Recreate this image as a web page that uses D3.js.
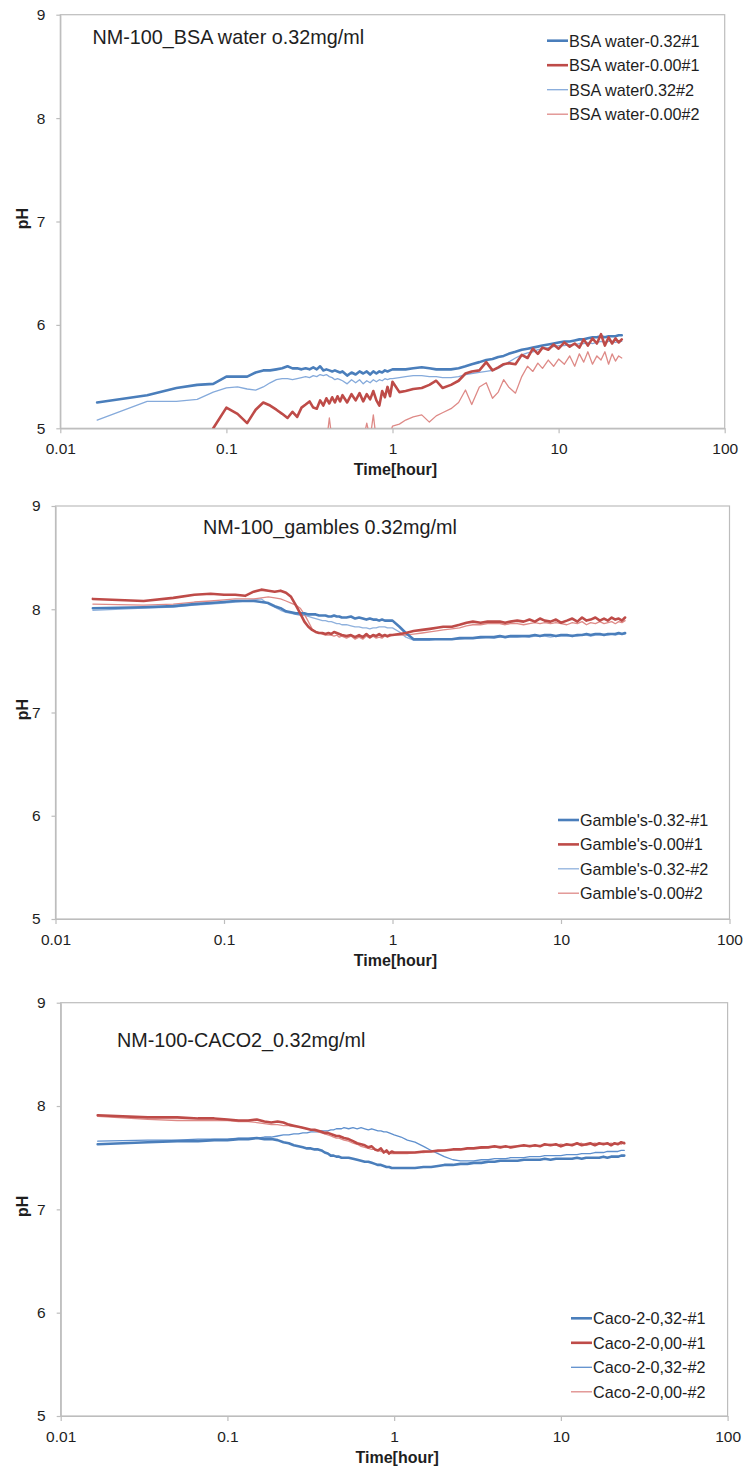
<!DOCTYPE html>
<html>
<head>
<meta charset="utf-8">
<script src="https://cdn.jsdelivr.net/npm/d3@7"></script>
<style>
html,body{margin:0;padding:0;background:#fff;}
svg{display:block;font-family:"Liberation Sans",Arial,sans-serif;}
</style>
</head>
<body>
<svg id="chart" width="744" height="1467"></svg>
<script>
// ---------------- DATA ----------------
// sampling times in minutes (axis shows hours)
const timeMin = [1,2,3,4,5,6,7,8,9,10,11,12,13,14,15,16,17,18,19,20,21,22,23,24,25,26,27,28,29,30,
  32,34,36,38,40,42,44,46,48,50,52,54,56,58,60,66,72,80,90,100,
  110,120,135,150,165,180,200,220,240,260,280,300,330,360,390,420,450,480,520,560,
  600,650,700,750,800,850,900,960,1020,1080,1140,1200,1260,1320,1380,1440];

const xTicks = [0.01, 0.1, 1, 10, 100];
const xTickLabels = ["0.01", "0.1", "1", "10", "100"];
const yTicks = [5, 6, 7, 8, 9];

const panelTitles = ["NM-100_BSA water o.32mg/ml", "NM-100_gambles 0.32mg/ml", "NM-100-CACO2_0.32mg/ml"];

// Panel 1 : BSA water
const bsaNames = ["BSA water-0.32#1", "BSA water-0.00#1", "BSA water0.32#2", "BSA water-0.00#2"];
const bsa_032_1 = [5.25,5.32,5.39,5.42,5.43,5.50,5.50,5.50,5.54,5.56,
  5.56,5.57,5.58,5.60,5.58,5.58,5.57,5.58,5.57,5.59,
  5.57,5.60,5.56,5.57,5.56,5.55,5.56,5.55,5.54,5.55,
  5.51,5.54,5.52,5.55,5.53,5.55,5.52,5.55,5.53,5.55,
  5.54,5.56,5.55,5.56,5.57,5.57,5.57,5.58,5.59,5.58,
  5.57,5.57,5.57,5.58,5.60,5.62,5.64,5.66,5.67,5.69,
  5.70,5.72,5.74,5.76,5.77,5.78,5.79,5.80,5.81,5.82,
  5.83,5.84,5.84,5.85,5.86,5.86,5.87,5.88,5.88,5.89,
  5.88,5.89,5.89,5.89,5.90,5.90];
const bsa_000_1 = [null,null,null,null,5.00,5.20,5.14,5.05,5.18,5.25,
  5.22,5.18,5.14,5.10,5.16,5.11,5.20,5.23,5.26,5.20,
  5.19,5.27,5.22,5.29,5.24,5.30,5.25,5.31,5.26,5.32,
  5.25,5.33,5.27,5.34,5.26,5.33,5.28,5.36,5.27,5.22,
  5.36,5.30,5.40,5.31,5.45,5.35,5.36,5.38,5.39,5.42,
  5.46,5.39,5.42,5.46,5.53,5.55,5.56,5.64,5.56,5.59,
  5.62,5.63,5.62,5.71,5.68,5.77,5.72,5.78,5.76,5.81,
  5.77,5.83,5.79,5.82,5.78,5.86,5.80,5.87,5.82,5.91,
  5.80,5.88,5.82,5.87,5.83,5.86];
const bsa_032_2 = [5.08,5.26,5.26,5.28,5.35,5.39,5.40,5.38,5.37,5.40,
  5.44,5.47,5.48,5.48,5.47,5.48,5.49,5.50,5.49,5.51,
  5.50,5.52,5.51,5.52,5.50,5.49,5.47,5.48,5.47,5.46,
  5.43,5.47,5.44,5.47,5.43,5.46,5.44,5.47,5.45,5.47,
  5.46,5.48,5.47,5.48,5.48,5.49,5.50,5.51,5.51,5.50,
  5.50,5.49,5.49,5.50,5.52,5.53,5.54,5.55,5.56,5.58,
  5.61,5.64,5.68,5.71,5.73,5.74,5.76,5.77,5.78,5.79,
  5.80,5.80,5.81,5.81,5.82,5.82,5.83,5.82,5.83,5.84,
  5.83,5.84,5.84,5.83,5.84,5.84];
const bsa_000_2 = [null,null,null,null,null,null,null,null,null,null,
  null,null,null,null,null,null,null,null,null,4.82,
  4.88,4.84,4.90,4.86,5.10,4.88,4.85,4.91,4.87,4.92,
  4.86,4.90,4.88,4.93,4.89,5.05,4.90,5.13,4.88,4.92,
  4.90,4.94,4.91,4.95,5.02,5.04,5.08,5.11,5.13,5.06,
  5.12,5.15,5.19,5.25,5.37,5.23,5.40,5.44,5.29,5.35,
  5.47,5.40,5.34,5.50,5.60,5.55,5.63,5.58,5.66,5.60,
  5.67,5.62,5.70,5.60,5.72,5.64,5.74,5.62,5.70,5.66,
  5.74,5.62,5.72,5.65,5.70,5.68];

// Panel 2 : Gamble's
const gamNames = ["Gamble's-0.32-#1", "Gamble's-0.00#1", "Gamble's-0.32-#2", "Gamble's-0.00#2"];
const gam_032_1 = [8.01,8.02,8.03,8.05,8.06,8.07,8.08,8.08,8.08,8.07,
  8.06,8.03,8.01,7.98,7.97,7.96,7.96,7.96,7.95,7.95,
  7.95,7.94,7.94,7.94,7.93,7.93,7.94,7.93,7.93,7.92,
  7.92,7.93,7.91,7.92,7.91,7.90,7.91,7.90,7.90,7.89,
  7.90,7.89,7.89,7.89,7.89,7.83,7.77,7.71,7.71,7.71,
  7.71,7.71,7.71,7.72,7.72,7.72,7.73,7.73,7.73,7.74,
  7.73,7.74,7.74,7.74,7.74,7.75,7.74,7.75,7.75,7.74,
  7.75,7.75,7.74,7.75,7.75,7.76,7.75,7.76,7.76,7.75,
  7.76,7.76,7.76,7.77,7.76,7.77];
const gam_000_1 = [8.10,8.08,8.11,8.14,8.15,8.14,8.14,8.13,8.17,8.19,
  8.18,8.17,8.18,8.16,8.12,8.04,7.96,7.88,7.83,7.80,
  7.78,7.77,7.77,7.76,7.77,7.76,7.78,7.77,7.76,7.75,
  7.74,7.75,7.73,7.75,7.73,7.76,7.73,7.75,7.74,7.76,
  7.74,7.75,7.74,7.75,7.75,7.76,7.77,7.79,7.80,7.81,
  7.82,7.83,7.83,7.85,7.87,7.88,7.87,7.88,7.88,7.88,
  7.87,7.88,7.89,7.88,7.90,7.88,7.91,7.89,7.88,7.90,
  7.87,7.89,7.91,7.88,7.92,7.89,7.90,7.92,7.89,7.91,
  7.89,7.92,7.90,7.91,7.89,7.92];
const gam_032_2 = [7.99,8.01,8.02,8.04,8.05,8.06,8.07,8.08,8.09,8.10,
  8.05,8.02,7.99,7.97,7.96,7.95,7.94,7.94,7.93,7.92,
  7.91,7.90,7.89,7.89,7.88,7.88,7.87,7.86,7.86,7.85,
  7.85,7.84,7.83,7.83,7.82,7.82,7.81,7.82,7.82,7.83,
  7.83,7.83,7.82,7.82,7.82,7.78,7.73,7.70,7.70,7.70,
  7.71,7.71,7.71,7.71,7.72,7.72,7.72,7.73,7.72,7.73,
  7.73,7.73,7.73,7.74,7.73,7.74,7.74,7.74,7.73,7.74,
  7.74,7.74,7.75,7.74,7.75,7.75,7.74,7.75,7.75,7.76,
  7.75,7.76,7.75,7.76,7.76,7.76];
const gam_000_2 = [8.05,8.04,8.05,8.07,8.08,8.09,8.10,8.10,8.10,8.11,
  8.12,8.11,8.10,8.08,8.06,8.04,8.01,7.95,7.88,7.81,
  7.78,7.77,7.76,7.75,7.75,7.75,7.74,7.75,7.73,7.74,
  7.72,7.74,7.71,7.73,7.71,7.74,7.72,7.74,7.72,7.73,
  7.72,7.74,7.73,7.74,7.75,7.75,7.75,7.76,7.77,7.78,
  7.79,7.80,7.81,7.82,7.84,7.85,7.85,7.86,7.86,7.86,
  7.85,7.86,7.86,7.85,7.86,7.87,7.86,7.87,7.86,7.87,
  7.86,7.85,7.87,7.86,7.88,7.85,7.87,7.86,7.88,7.86,
  7.87,7.88,7.86,7.88,7.87,7.89];

// Panel 3 : Caco-2
const cacoNames = ["Caco-2-0,32-#1", "Caco-2-0,00-#1", "Caco-2-0,32-#2", "Caco-2-0,00-#2"];
const caco_032_1 = [7.63,7.65,7.66,7.66,7.67,7.67,7.68,7.68,7.69,7.68,
  7.68,7.67,7.65,7.64,7.62,7.61,7.60,7.59,7.59,7.58,
  7.58,7.57,7.55,7.54,7.52,7.52,7.51,7.51,7.50,7.50,
  7.50,7.49,7.48,7.47,7.46,7.46,7.45,7.44,7.43,7.43,
  7.42,7.41,7.41,7.40,7.40,7.40,7.40,7.40,7.41,7.41,
  7.42,7.43,7.43,7.44,7.44,7.45,7.45,7.46,7.46,7.47,
  7.47,7.47,7.47,7.48,7.48,7.48,7.48,7.49,7.48,7.49,
  7.49,7.49,7.49,7.50,7.49,7.50,7.50,7.50,7.50,7.51,
  7.50,7.51,7.51,7.51,7.52,7.52];
const caco_000_1 = [7.91,7.89,7.89,7.88,7.88,7.87,7.86,7.86,7.87,7.85,
  7.84,7.85,7.84,7.82,7.81,7.80,7.79,7.78,7.77,7.77,
  7.76,7.75,7.74,7.74,7.73,7.72,7.71,7.71,7.70,7.69,
  7.68,7.66,7.64,7.63,7.62,7.60,7.61,7.58,7.57,7.59,
  7.55,7.57,7.54,7.56,7.55,7.55,7.55,7.55,7.56,7.56,
  7.57,7.57,7.58,7.58,7.59,7.59,7.60,7.60,7.61,7.60,
  7.61,7.60,7.61,7.62,7.61,7.62,7.61,7.63,7.62,7.63,
  7.61,7.63,7.62,7.64,7.62,7.63,7.64,7.62,7.64,7.63,
  7.64,7.62,7.64,7.63,7.65,7.64];
const caco_032_2 = [7.66,7.67,7.67,7.68,7.68,7.68,7.69,7.69,7.69,7.70,
  7.70,7.71,7.72,7.72,7.73,7.73,7.74,7.74,7.75,7.75,
  7.75,7.76,7.76,7.76,7.77,7.77,7.78,7.78,7.78,7.79,
  7.78,7.79,7.78,7.79,7.78,7.77,7.78,7.77,7.76,7.76,
  7.75,7.75,7.74,7.73,7.72,7.70,7.67,7.65,7.61,7.57,
  7.54,7.51,7.48,7.47,7.47,7.47,7.48,7.48,7.49,7.49,
  7.49,7.50,7.50,7.50,7.51,7.51,7.51,7.52,7.52,7.52,
  7.52,7.53,7.53,7.53,7.54,7.54,7.54,7.55,7.55,7.55,
  7.56,7.56,7.56,7.56,7.57,7.57];
const caco_000_2 = [7.90,7.87,7.86,7.86,7.86,7.86,7.85,7.85,7.84,7.83,
  7.82,7.82,7.81,7.81,7.80,7.80,7.79,7.78,7.77,7.76,
  7.75,7.74,7.73,7.72,7.71,7.70,7.69,7.69,7.68,7.67,
  7.66,7.64,7.63,7.61,7.60,7.59,7.58,7.58,7.57,7.56,
  7.56,7.55,7.55,7.54,7.54,7.54,7.54,7.55,7.55,7.56,
  7.56,7.57,7.58,7.58,7.59,7.59,7.59,7.60,7.60,7.61,
  7.60,7.61,7.61,7.61,7.62,7.61,7.62,7.62,7.63,7.62,
  7.63,7.62,7.63,7.63,7.64,7.62,7.63,7.64,7.63,7.64,
  7.63,7.64,7.63,7.64,7.63,7.65];

// ---------------- LAYOUT / STYLE ----------------
const styles = [
  {color: "#4a7ebb", width: 2.6},
  {color: "#be4b48", width: 2.6},
  {color: "#85aadb", width: 1.3},
  {color: "#de8a87", width: 1.3}
];
const panels = [
  {box: {l: 60.3, r: 724.7, t: 14.7, b: 428.3}, title: panelTitles[0], titleX: 92.5, titleY: 43.5,
   names: bsaNames, series: [bsa_032_1, bsa_000_1, bsa_032_2, bsa_000_2],
   leg: {x1: 547, x2: 568, tx: 569, y0: 40.7, dy: 24.5}, thin2: "#85aadb"},
  {box: {l: 55.5, r: 729.5, t: 506, b: 919}, title: panelTitles[1], titleX: 203, titleY: 533.5,
   names: gamNames, series: [gam_032_1, gam_000_1, gam_032_2, gam_000_2],
   leg: {x1: 558, x2: 579, tx: 580, y0: 820, dy: 24.4}, thin2: "#8fb1dd"},
  {box: {l: 60.7, r: 727.6, t: 1002.7, b: 1416}, title: panelTitles[2], titleX: 117, titleY: 1047,
   names: cacoNames, series: [caco_032_1, caco_000_1, caco_032_2, caco_000_2],
   leg: {x1: 571, x2: 592, tx: 593, y0: 1318.3, dy: 24.5}, thin2: "#5e8fcd"}
];

const svg = d3.select("#chart");
const frameColor = "#bdbdbd";
const textColor = "#1e1e1e";

panels.forEach((p, pi) => {
  const b = p.box;
  const x = d3.scaleLog().domain([0.01, 100]).range([b.l, b.r]);
  const y = d3.scaleLinear().domain([5, 9]).range([b.b, b.t]);
  const g = svg.append("g");

  // clip
  const cid = "clip" + pi;
  g.append("clipPath").attr("id", cid).append("rect")
    .attr("x", b.l).attr("y", b.t).attr("width", b.r - b.l).attr("height", b.b - b.t);

  // frame
  g.append("rect").attr("x", b.l).attr("y", b.t).attr("width", b.r - b.l).attr("height", b.b - b.t)
    .attr("fill", "none").attr("stroke", frameColor).attr("stroke-width", 1.2);

  // x axis
  const xa = g.append("g").attr("transform", `translate(0,${b.b})`)
    .call(d3.axisBottom(x).tickValues(xTicks).tickFormat((d, i) => xTickLabels[i])
      .tickSize(5).tickSizeOuter(0).tickPadding(10));
  xa.select(".domain").attr("stroke", frameColor).attr("stroke-width", 1.2);
  xa.selectAll(".tick line").attr("stroke", frameColor).attr("stroke-width", 1.2);
  xa.selectAll("text").attr("font-size", 15.5).attr("fill", textColor)
    .attr("font-family", "Liberation Sans, Arial, sans-serif");

  // y axis
  const ya = g.append("g").attr("transform", `translate(${b.l},0)`)
    .call(d3.axisLeft(y).tickValues(yTicks).tickFormat(d3.format("d"))
      .tickSize(4).tickSizeOuter(0).tickPadding(11));
  ya.select(".domain").attr("stroke", frameColor).attr("stroke-width", 1.2);
  ya.selectAll(".tick line").attr("stroke", frameColor).attr("stroke-width", 1.2);
  ya.selectAll("text").attr("font-size", 15.5).attr("fill", textColor)
    .attr("font-family", "Liberation Sans, Arial, sans-serif");

  // axis titles
  g.append("text").attr("x", (b.l + b.r) / 2 + 3).attr("y", b.b + 47)
    .attr("text-anchor", "middle").attr("font-weight", "bold").attr("font-size", 16)
    .attr("fill", textColor).text("Time[hour]");
  g.append("text").attr("transform", `translate(22.5,${(b.t + b.b) / 2 - 3}) rotate(-90)`)
    .attr("text-anchor", "middle").attr("dy", "0.35em").attr("font-weight", "bold").attr("font-size", 16)
    .attr("fill", textColor).text("pH");

  // title
  g.append("text").attr("x", p.titleX).attr("y", p.titleY).attr("font-size", 19.8)
    .attr("fill", textColor).text(p.title);

  // lines
  const lineGen = d3.line()
    .defined(d => d.v !== null)
    .x(d => x(d.t / 60))
    .y(d => y(d.v));
  const order = [2, 3, 0, 1];
  const plot = g.append("g").attr("clip-path", `url(#${cid})`);
  order.forEach(si => {
    const vals = p.series[si];
    const pts = timeMin.map((t, i) => ({t: t, v: vals[i]}));
    const col = si === 2 ? p.thin2 : styles[si].color;
    plot.append("path").datum(pts).attr("d", lineGen)
      .attr("fill", "none").attr("stroke", col).attr("stroke-width", styles[si].width)
      .attr("stroke-linejoin", "round").attr("stroke-linecap", "round");
  });

  // legend
  p.names.forEach((name, si) => {
    const ly = p.leg.y0 + si * p.leg.dy;
    const col = si === 2 ? p.thin2 : styles[si].color;
    g.append("line").attr("x1", p.leg.x1).attr("x2", p.leg.x2).attr("y1", ly).attr("y2", ly)
      .attr("stroke", col).attr("stroke-width", styles[si].width);
    g.append("text").attr("x", p.leg.tx).attr("y", ly).attr("dy", "0.36em")
      .attr("font-size", 16.2).attr("fill", textColor).text(name);
  });
});
</script>
</body>
</html>
